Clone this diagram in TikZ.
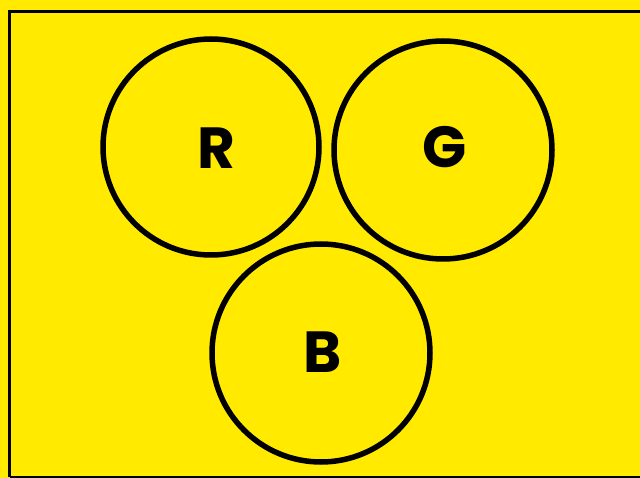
\documentclass[tikz,border=0pt]{standalone}
\usepackage{fontspec}
\setmainfont{Poppins}
\definecolor{bgyellow}{RGB}{255,234,0}
\tikzset{
  ring/.style={draw=black, line width=5.5pt},
  letter/.style={font=\fontsize{58}{62}\selectfont\bfseries, text=black, inner sep=0pt}
}
\begin{document}
\begin{tikzpicture}[x=1pt,y=-1pt]
\useasboundingbox (0,0) rectangle (640,478);
\clip (0,0) rectangle (640,478);
\fill[bgyellow] (0,0) rectangle (640,478);
\draw[line width=3pt] (9.5,477) -- (9.5,11.5) -- (660,11.5);
\draw[line width=3pt] (9.5,477) -- (660,477);
\node[ring, circle, minimum size=216pt, inner sep=0pt] (r) at (211,147) {};
\node[ring, circle, minimum size=218pt, inner sep=0pt] (g) at (443,150) {};
\node[ring, circle, minimum size=218pt, inner sep=0pt] (b) at (321,353) {};
\node[letter] (rl) at (216,148) {R};
\node[letter] (gl) at (445,147) {G};
\node[letter] (bl) at (323,352) {B};
\end{tikzpicture}
\end{document}
